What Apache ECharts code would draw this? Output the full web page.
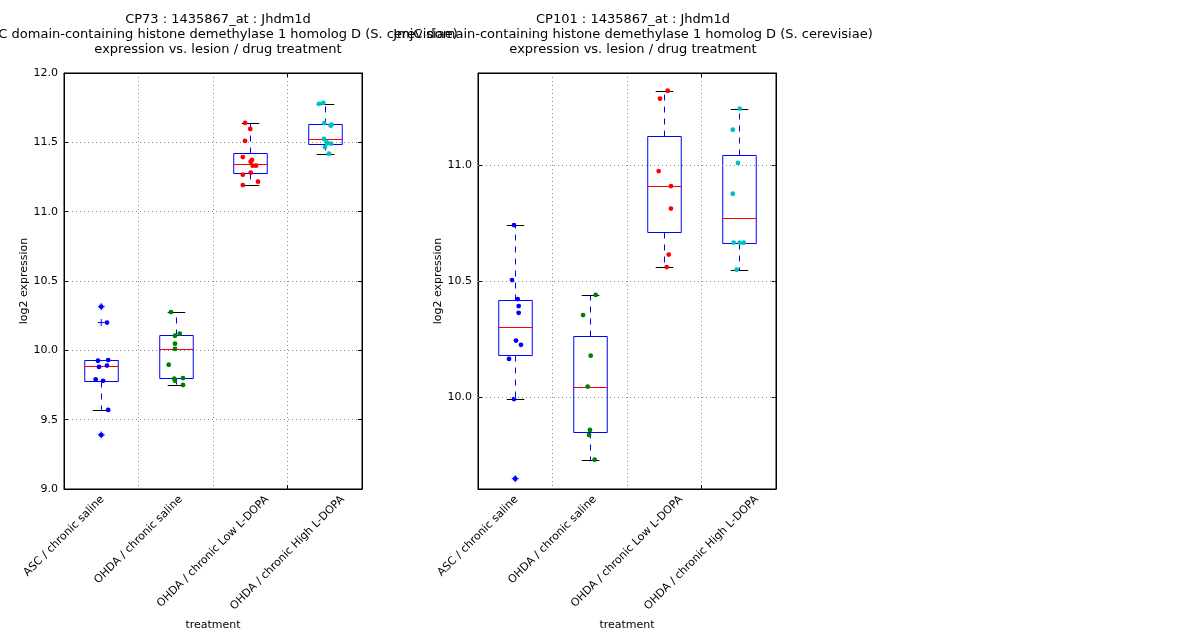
<!DOCTYPE html>
<html>
<head>
<meta charset="utf-8">
<script src="https://cdn.jsdelivr.net/npm/echarts@6/dist/echarts.min.js"></script>
<style>
html,body{margin:0;padding:0;background:#fff;}
#chart{width:1200px;height:640px;}
</style>
</head>
<body>
<div id="chart"></div>
<script>
// ---------- data ----------
const categories = ["ASC / chronic saline", "OHDA / chronic saline", "OHDA / chronic Low L-DOPA", "OHDA / chronic High L-DOPA"];
const groupColors = ["#0000ff", "#008000", "#ff0000", "#00bfbf"];

const titleCP73 = "CP73 : 1435867_at : Jhdm1d\nJmjC domain-containing histone demethylase 1 homolog D (S. cerevisiae)\nexpression vs. lesion / drug treatment";
const titleCP101 = "CP101 : 1435867_at : Jhdm1d\nJmjC domain-containing histone demethylase 1 homolog D (S. cerevisiae)\nexpression vs. lesion / drug treatment";

// CP73 points per group
const cp73_asc      = [10.315, 10.20, 9.925, 9.93, 9.88, 9.89, 9.79, 9.78, 9.57, 9.39];
const cp73_asc_jit  = [0, 0.077, -0.044, 0.093, -0.03, 0.077, -0.075, 0.024, 0.093, 0];
const cp73_sal      = [10.276, 10.12, 10.105, 10.048, 10.01, 9.896, 9.795, 9.80, 9.78, 9.75];
const cp73_sal_jit  = [-0.064, 0.053, -0.01, -0.01, -0.01, -0.095, -0.02, 0.097, -0.01, 0.097];
const cp73_low      = [11.64, 11.596, 11.51, 11.394, 11.373, 11.36, 11.332, 11.332, 11.281, 11.267, 11.216, 11.192];
const cp73_low_jit  = [-0.07, 0, -0.07, -0.10, 0.023, 0.006, 0.033, 0.077, 0.006, -0.10, 0.104, -0.10];
const cp73_high     = [11.778, 11.784, 11.639, 11.627, 11.62, 11.524, 11.50, 11.49, 11.493, 11.466, 11.418];
const cp73_high_jit = [-0.077, -0.02, -0.006, 0.093, 0.08, -0.01, 0.026, 0.084, 0.034, 0.003, 0.057];
// box stats: [low whisker, q1, median, q3, high whisker]
const cp73_box = [
  [9.567, 9.78, 9.885, 9.928, 9.93],
  [9.748, 9.798, 10.007, 10.108, 10.274],
  [11.19, 11.279, 11.344, 11.421, 11.637],
  [11.413, 11.486, 11.522, 11.63, 11.78]
];
const cp73_fliers = [[0, 10.315], [0, 10.20], [0, 9.39]];
const cp73_yTicks = [9.0, 9.5, 10.0, 10.5, 11.0, 11.5, 12.0];

// CP101 points per group
const cp101_asc      = [10.741, 10.504, 10.422, 10.392, 10.363, 10.243, 10.225, 10.164, 9.991, 9.648];
const cp101_asc_jit  = [-0.017, -0.044, 0.033, 0.046, 0.046, 0.01, 0.077, -0.084, -0.017, 0];
const cp101_sal      = [10.44, 10.353, 10.178, 10.045, 9.858, 9.836, 9.73];
const cp101_sal_jit  = [0.08, -0.09, 0.013, -0.028, 0.003, -0.01, 0.066];
const cp101_low      = [11.320, 11.286, 10.974, 10.909, 10.812, 10.614, 10.56];
const cp101_low_jit  = [0.046, -0.057, -0.075, 0.09, 0.09, 0.06, 0.033];
const cp101_high     = [11.243, 11.152, 11.009, 10.876, 10.665, 10.665, 10.665, 10.549];
const cp101_high_jit = [0.013, -0.08, -0.01, -0.08, -0.068, 0.013, 0.067, -0.028];
const cp101_box = [
  [9.99, 10.181, 10.30, 10.417, 10.741],
  [9.727, 9.848, 10.042, 10.262, 10.438],
  [10.559, 10.711, 10.909, 11.126, 11.319],
  [10.547, 10.664, 10.77, 11.042, 11.241]
];
const cp101_fliers = [[0, 9.648]];
const cp101_yTicks = [10.0, 10.5, 11.0];
const cp101_yRange = [9.6034, 11.3966];

// tick-label slots (matplotlib centred each rotated label on a band boundary)
const labelSlots = [-0.5, 0.5, 1.5, 2.5];

// ---------- helpers ----------
const FONT = "DejaVu Sans";
const LABEL_SIZE = 11;
const LABEL_LH = 13;
const GRID_W = 298, GRID_H = 416;
function pointsData(groups, jits) {
  const out = [];
  groups.forEach((g, ci) => g.forEach((v, i) => out.push([ci, v, jits[ci][i]])));
  return out;
}
function boxData(box) { return box.map((b, i) => [i].concat(b)); }

// A 45° label whose bounding box is centred on slot B has its top-right corner at
// B + 0.354*(L - h) px; anchor each label there (align right / top in text space).
const measureCtx = document.createElement("canvas").getContext("2d");
measureCtx.font = LABEL_SIZE + "px '" + FONT + "'";
const bandPx = GRID_W / categories.length;
const labelAnchors = categories.map((c, i) => {
  const L = measureCtx.measureText(c).width;
  return labelSlots[i] + 0.3536 * (L - LABEL_LH) / bandPx;
});
function labelFor(v) {
  let best = 0;
  labelAnchors.forEach((a, i) => { if (Math.abs(a - v) < Math.abs(labelAnchors[best] - v)) best = i; });
  return categories[best];
}

function renderBox(params, api) {
  const ci = api.value(0);
  const bw = api.size([1, 0])[0];
  const half = bw * 0.225, cap = bw * 0.118;
  const cx = Math.round(api.coord([ci, 0])[0]) + 0.5;
  const y = k => Math.round(api.coord([ci, api.value(k)])[1]) + 0.5;
  const yl = y(1), y1 = y(2), ym = y(3), y3 = y(4), yh = y(5);
  const blue = "#0000ff";
  return {
    type: "group",
    children: [
      { type: "line", shape: { x1: cx, y1: y3, x2: cx, y2: yh }, style: { stroke: blue, lineWidth: 1, lineDash: [6, 6] } },
      { type: "line", shape: { x1: cx, y1: y1, x2: cx, y2: yl }, style: { stroke: blue, lineWidth: 1, lineDash: [6, 6] } },
      { type: "line", shape: { x1: cx - cap, y1: yh, x2: cx + cap, y2: yh }, style: { stroke: "#000", lineWidth: 1 } },
      { type: "line", shape: { x1: cx - cap, y1: yl, x2: cx + cap, y2: yl }, style: { stroke: "#000", lineWidth: 1 } },
      { type: "rect", shape: { x: cx - half, y: y3, width: 2 * half, height: y1 - y3 }, style: { stroke: blue, fill: null, lineWidth: 1 } },
      { type: "line", shape: { x1: cx - half, y1: ym, x2: cx + half, y2: ym }, style: { stroke: "#ff0000", lineWidth: 1 } }
    ]
  };
}
function renderPoint(params, api) {
  const ci = api.value(0);
  const bw = api.size([1, 0])[0];
  const p = api.coord([ci, api.value(1)]);
  return {
    type: "circle",
    shape: { cx: p[0] + api.value(2) * bw, cy: p[1], r: 2.4 },
    style: { fill: groupColors[ci], stroke: null }
  };
}
function renderFlier(params, api) {
  const p = api.coord([api.value(0), api.value(1)]);
  const s = 3.5;
  return {
    type: "group",
    children: [
      { type: "line", shape: { x1: p[0] - s, y1: p[1], x2: p[0] + s, y2: p[1] }, style: { stroke: "#0000ff", lineWidth: 1 } },
      { type: "line", shape: { x1: p[0], y1: p[1] - s, x2: p[0], y2: p[1] + s }, style: { stroke: "#0000ff", lineWidth: 1 } }
    ]
  };
}

const gridStyle = { color: "#8a8a8a", width: 1, type: [1, 3] };
function xAxes(gi) {
  return [
    { // category axis used by the series (ticks and grid at band boundaries)
      gridIndex: gi, type: "category", data: categories, position: "bottom",
      axisLine: { show: true, onZero: false, lineStyle: { color: "#000" } },
      axisTick: { show: true, inside: true, length: 4, lineStyle: { color: "#000" } },
      axisLabel: { show: false },
      splitLine: { show: true, interval: 0, lineStyle: gridStyle }
    },
    { // top frame ticks
      gridIndex: gi, type: "category", data: categories, position: "top",
      axisLine: { show: true, onZero: false, lineStyle: { color: "#000" } },
      axisTick: { show: true, inside: true, length: 4, lineStyle: { color: "#000" } },
      axisLabel: { show: false }, splitLine: { show: false }
    },
    { // label axis: matplotlib-style rotated labels
      gridIndex: gi, type: "value", position: "bottom", min: -0.5, max: 3.5,
      name: "treatment", nameLocation: "middle", nameGap: 125,
      nameTextStyle: { fontFamily: FONT, fontSize: 11, color: "#000" },
      axisLine: { show: false, onZero: false }, axisTick: { show: false }, splitLine: { show: false },
      axisLabel: {
        customValues: labelAnchors, rotate: 45, align: "right", verticalAlign: "top", margin: 4,
        showMinLabel: true, showMaxLabel: true, hideOverlap: false,
        fontFamily: FONT, fontSize: LABEL_SIZE, lineHeight: LABEL_LH, color: "#000",
        formatter: v => labelFor(v)
      }
    }
  ];
}
function yAxes(gi, min, max, ticks, useInterval) {
  const common = {
    gridIndex: gi, type: "value", min: min, max: max,
    axisLine: { show: true, onZero: false, lineStyle: { color: "#000" } }
  };
  const left = Object.assign({}, common, {
    position: "left",
    name: "log2 expression", nameLocation: "middle", nameGap: 34,
    nameTextStyle: { fontFamily: FONT, fontSize: 11, color: "#000" },
    axisTick: { show: true, inside: true, length: 4, lineStyle: { color: "#000" } },
    axisLabel: { fontFamily: FONT, fontSize: 11, color: "#000", margin: 6, formatter: v => v.toFixed(1) },
    splitLine: { show: useInterval, lineStyle: gridStyle }
  });
  const right = Object.assign({}, common, {
    position: "right",
    axisTick: { show: true, inside: true, length: 4, lineStyle: { color: "#000" } },
    axisLabel: { show: false }, splitLine: { show: false }
  });
  if (useInterval) {
    left.interval = 0.5; right.interval = 0.5;
  } else {
    left.axisLabel.customValues = ticks;
    left.axisTick.customValues = ticks;
    right.axisTick.customValues = ticks;
  }
  return [left, right];
}

const option = {
  animation: false,
  backgroundColor: "#ffffff",
  title: [
    { text: titleCP73, left: 213, top: 7, textAlign: "center",
      textStyle: { fontFamily: FONT, fontSize: 13, fontWeight: "normal", color: "#000", lineHeight: 15 } },
    { text: titleCP101, left: 628, top: 7, textAlign: "center",
      textStyle: { fontFamily: FONT, fontSize: 13, fontWeight: "normal", color: "#000", lineHeight: 15 } }
  ],
  grid: [
    { left: 64, top: 73, width: GRID_W, height: GRID_H, show: true, borderColor: "#000", borderWidth: 1,
      backgroundColor: "transparent", containLabel: false, outerBoundsMode: "none" },
    { left: 478, top: 73, width: GRID_W, height: GRID_H, show: true, borderColor: "#000", borderWidth: 1,
      backgroundColor: "transparent", containLabel: false, outerBoundsMode: "none" }
  ],
  xAxis: xAxes(0).concat(xAxes(1)),
  yAxis: yAxes(0, 9.0, 12.0, cp73_yTicks, true).concat(yAxes(1, cp101_yRange[0], cp101_yRange[1], cp101_yTicks, false)),
  series: [
    { type: "line", xAxisIndex: 3, yAxisIndex: 2, data: [], silent: true,
      markLine: { silent: true, symbol: ["none", "none"], label: { show: false },
        lineStyle: { color: "#8a8a8a", width: 1, type: [1, 3] },
        data: cp101_yTicks.map(v => ({ yAxis: v })) } },
    { type: "custom", xAxisIndex: 0, yAxisIndex: 0, renderItem: renderBox, data: boxData(cp73_box), z: 3 },
    { type: "custom", xAxisIndex: 0, yAxisIndex: 0, renderItem: renderPoint, z: 4,
      data: pointsData([cp73_asc, cp73_sal, cp73_low, cp73_high], [cp73_asc_jit, cp73_sal_jit, cp73_low_jit, cp73_high_jit]) },
    { type: "custom", xAxisIndex: 0, yAxisIndex: 0, renderItem: renderFlier, data: cp73_fliers, z: 5 },
    { type: "custom", xAxisIndex: 3, yAxisIndex: 2, renderItem: renderBox, data: boxData(cp101_box), z: 3 },
    { type: "custom", xAxisIndex: 3, yAxisIndex: 2, renderItem: renderPoint, z: 4,
      data: pointsData([cp101_asc, cp101_sal, cp101_low, cp101_high], [cp101_asc_jit, cp101_sal_jit, cp101_low_jit, cp101_high_jit]) },
    { type: "custom", xAxisIndex: 3, yAxisIndex: 2, renderItem: renderFlier, data: cp101_fliers, z: 5 }
  ]
};

const chart = echarts.init(document.getElementById("chart"), null, { renderer: "canvas" });
chart.setOption(option);
</script>
</body>
</html>
